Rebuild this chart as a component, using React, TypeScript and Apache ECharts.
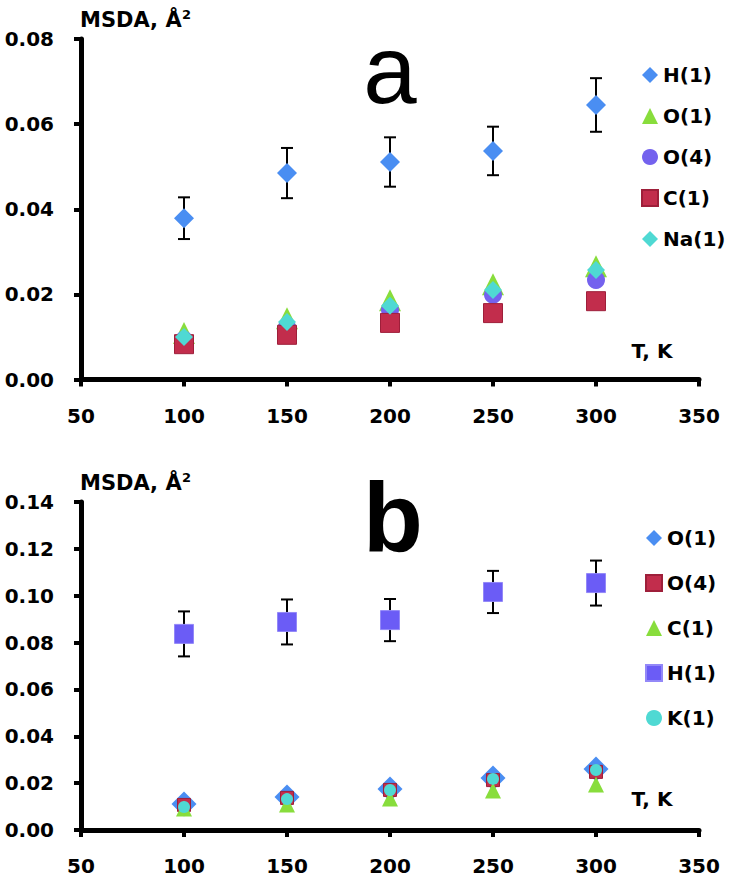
import React, { useEffect, useRef } from "react";
import * as echarts from "echarts";

// ---- data ----
const temps = [100, 150, 200, 250, 300];
const xTicks = [50, 100, 150, 200, 250, 300, 350];
const yTicksA = [0, 0.02, 0.04, 0.06, 0.08];
const yTicksB = [0, 0.02, 0.04, 0.06, 0.08, 0.1, 0.12, 0.14];

// panel a
const aH1 = [0.0379, 0.0485, 0.0511, 0.0537, 0.0645];
const aH1Err = [0.0049, 0.0059, 0.0058, 0.0057, 0.0063];
const aO1 = [0.0109, 0.0144, 0.0186, 0.0224, 0.0266];
const aO4 = [0.0093, 0.0123, 0.0163, 0.0199, 0.0234];
const aC1 = [0.0083, 0.0105, 0.0133, 0.0156, 0.0184];
const aNa1 = [0.01, 0.0135, 0.0173, 0.021, 0.0257];

// panel b
const bO1 = [0.0111, 0.0141, 0.0175, 0.0222, 0.026];
const bO4 = [0.0107, 0.0137, 0.0171, 0.0213, 0.0248];
const bC1 = [0.0092, 0.0109, 0.0134, 0.0169, 0.0194];
const bH1 = [0.0837, 0.0888, 0.0896, 0.1016, 0.1054];
const bH1Err = [0.0096, 0.0096, 0.009, 0.009, 0.0096];
const bK1 = [0.0098, 0.0132, 0.0171, 0.0218, 0.0256];

const legendA = ["H(1)", "O(1)", "O(4)", "C(1)", "Na(1)"];
const legendB = ["O(1)", "O(4)", "C(1)", "H(1)", "K(1)"];

const FONT = "DejaVu Sans";

function pts(vals: number[]) {
  return temps.map((t, i) => [t, vals[i]]);
}

function errRender(params: any, api: any) {
  const x = api.value(0);
  const y = api.value(1);
  const e = api.value(2);
  const top = api.coord([x, y + e]);
  const bot = api.coord([x, y - e]);
  const w = 6;
  const st = { stroke: "#000", lineWidth: 2 };
  return {
    type: "group",
    children: [
      { type: "line", shape: { x1: top[0], y1: top[1], x2: bot[0], y2: bot[1] }, style: st },
      { type: "line", shape: { x1: top[0] - w, y1: top[1], x2: top[0] + w, y2: top[1] }, style: st },
      { type: "line", shape: { x1: bot[0] - w, y1: bot[1], x2: bot[0] + w, y2: bot[1] }, style: st },
    ],
  };
}

function makeX(gridIndex: number) {
  return {
    type: "value",
    gridIndex,
    min: xTicks[0],
    max: xTicks[xTicks.length - 1],
    interval: xTicks[1] - xTicks[0],
    axisLine: { show: true, lineStyle: { color: "#000", width: 5 } },
    axisTick: { show: true, length: 7, lineStyle: { color: "#000", width: 4 } },
    axisLabel: { margin: 26, color: "#000", fontFamily: FONT, fontWeight: "bold", fontSize: 20 },
    splitLine: { show: false },
  };
}

function makeY(gridIndex: number, ticks: number[]) {
  return {
    type: "value",
    gridIndex,
    min: ticks[0],
    max: ticks[ticks.length - 1],
    interval: ticks[1] - ticks[0],
    axisLine: { show: true, lineStyle: { color: "#000", width: 5 } },
    axisTick: { show: true, length: 7, lineStyle: { color: "#000", width: 4 } },
    axisLabel: {
      margin: 27,
      color: "#000",
      fontFamily: FONT,
      fontWeight: "bold",
      fontSize: 20,
      formatter: (v: number) => v.toFixed(2),
    },
    splitLine: { show: false },
  };
}

const legendText = { color: "#000", fontFamily: FONT, fontWeight: "bold", fontSize: 20, lineHeight: 20 };

export default function App() {
  const ref = useRef<HTMLDivElement>(null);
  useEffect(() => {
    document.body.style.margin = "0";
    const chart = echarts.init(ref.current!, undefined, { renderer: "svg" });
    const option: any = {
      animation: false,
      backgroundColor: "#fff",
      grid: [
        { left: 81, right: 32, top: 39, bottom: 879 - 379.5 },
        { left: 81, right: 32, top: 502, bottom: 879 - 830 },
      ],
      xAxis: [makeX(0), makeX(1)],
      yAxis: [makeY(0, yTicksA), makeY(1, yTicksB)],
      legend: [
        {
          orient: "vertical",
          left: 636,
          top: 60,
          padding: 5,
          itemWidth: 16,
          itemHeight: 16,
          itemGap: 21,
          data: legendA,
          selectedMode: false,
          textStyle: legendText,
          formatter: (n: string) => n.replace("b:", ""),
        },
        {
          orient: "vertical",
          left: 640,
          top: 523,
          padding: 5,
          itemWidth: 16,
          itemHeight: 16,
          itemGap: 25,
          data: legendB.map((n) => "b:" + n),
          selectedMode: false,
          textStyle: legendText,
          formatter: (n: string) => n.replace("b:", ""),
        },
      ],
      graphic: [
        { type: "text", left: 80, top: 9, style: { text: "MSDA, Å", font: `bold 21px "${FONT}"`, fill: "#000" } },
        { type: "text", left: 182, top: 8, style: { text: "2", font: `bold 13px "${FONT}"`, fill: "#000" } },
        { type: "text", left: 80, top: 472, style: { text: "MSDA, Å", font: `bold 21px "${FONT}"`, fill: "#000" } },
        { type: "text", left: 182, top: 471, style: { text: "2", font: `bold 13px "${FONT}"`, fill: "#000" } },
        {
          type: "text",
          x: 652,
          y: 351,
          style: { text: "T, K", font: `bold 20px "${FONT}"`, fill: "#000", align: "center", verticalAlign: "middle" },
        },
        {
          type: "text",
          x: 652,
          y: 799,
          style: { text: "T, K", font: `bold 20px "${FONT}"`, fill: "#000", align: "center", verticalAlign: "middle" },
        },
        {
          type: "text",
          x: 390,
          y: 69,
          style: { text: "a", font: `96px "Liberation Sans"`, fill: "#000", align: "center", verticalAlign: "middle" },
        },
        {
          type: "text",
          x: 393,
          y: 517,
          style: { text: "b", font: `bold 98px "Liberation Sans"`, fill: "#000", align: "center", verticalAlign: "middle" },
        },
      ],
      series: [
        // panel a
        {
          type: "custom",
          name: "errA",
          xAxisIndex: 0,
          yAxisIndex: 0,
          renderItem: errRender,
          encode: { x: 0, y: 1 },
          data: temps.map((t, i) => [t, aH1[i], aH1Err[i]]),
          z: 1,
        },
        {
          type: "scatter", name: "H(1)", xAxisIndex: 0, yAxisIndex: 0, symbol: "diamond", symbolSize: 20,
          itemStyle: { color: "#4A8EF2", opacity: 1 }, data: pts(aH1), z: 2,
        },
        {
          type: "scatter", name: "O(1)", xAxisIndex: 0, yAxisIndex: 0, symbol: "triangle", symbolSize: 22,
          itemStyle: { color: "#88DD3C", opacity: 1 }, data: pts(aO1), z: 2,
        },
        {
          type: "scatter", name: "O(4)", xAxisIndex: 0, yAxisIndex: 0, symbol: "circle", symbolSize: 18,
          itemStyle: { color: "#7462EE", opacity: 1 }, data: pts(aO4), z: 2,
        },
        {
          type: "scatter", name: "C(1)", xAxisIndex: 0, yAxisIndex: 0, symbol: "rect", symbolSize: 19,
          itemStyle: { color: "#C22D4C", borderColor: "#9E1F3A", borderWidth: 1, opacity: 1 }, data: pts(aC1), z: 2,
        },
        {
          type: "scatter", name: "Na(1)", xAxisIndex: 0, yAxisIndex: 0, symbol: "diamond", symbolSize: 18,
          itemStyle: { color: "#4FD9D3", opacity: 1 }, data: pts(aNa1), z: 2,
        },
        // panel b
        {
          type: "scatter", name: "b:O(1)", xAxisIndex: 1, yAxisIndex: 1, symbol: "diamond", symbolSize: 25,
          itemStyle: { color: "#4A8EF2", opacity: 1 }, data: pts(bO1), z: 2,
        },
        {
          type: "scatter", name: "b:O(4)", xAxisIndex: 1, yAxisIndex: 1, symbol: "rect", symbolSize: 13,
          itemStyle: { color: "#C22D4C", borderColor: "#9E1F3A", borderWidth: 1, opacity: 1 }, data: pts(bO4), z: 2,
        },
        {
          type: "scatter", name: "b:C(1)", xAxisIndex: 1, yAxisIndex: 1, symbol: "triangle", symbolSize: 16,
          itemStyle: { color: "#88DD3C", opacity: 1 }, data: pts(bC1), z: 2,
        },
        {
          type: "custom",
          name: "errB",
          xAxisIndex: 1,
          yAxisIndex: 1,
          renderItem: errRender,
          encode: { x: 0, y: 1 },
          data: temps.map((t, i) => [t, bH1[i], bH1Err[i]]),
          z: 1,
        },
        {
          type: "scatter", name: "b:H(1)", xAxisIndex: 1, yAxisIndex: 1, symbol: "rect", symbolSize: 19,
          itemStyle: { color: "#6B5CF6", borderColor: "#9388F8", borderWidth: 1, opacity: 1 }, data: pts(bH1), z: 2,
        },
        {
          type: "scatter", name: "b:K(1)", xAxisIndex: 1, yAxisIndex: 1, symbol: "circle", symbolSize: 12,
          itemStyle: { color: "#4FD9D3", opacity: 1 }, data: pts(bK1), z: 2,
        },
      ],
    };
    chart.setOption(option);
    return () => chart.dispose();
  }, []);
  return <div ref={ref} style={{ position: "absolute", left: 0, top: 0, width: 731, height: 879 }} />;
}
